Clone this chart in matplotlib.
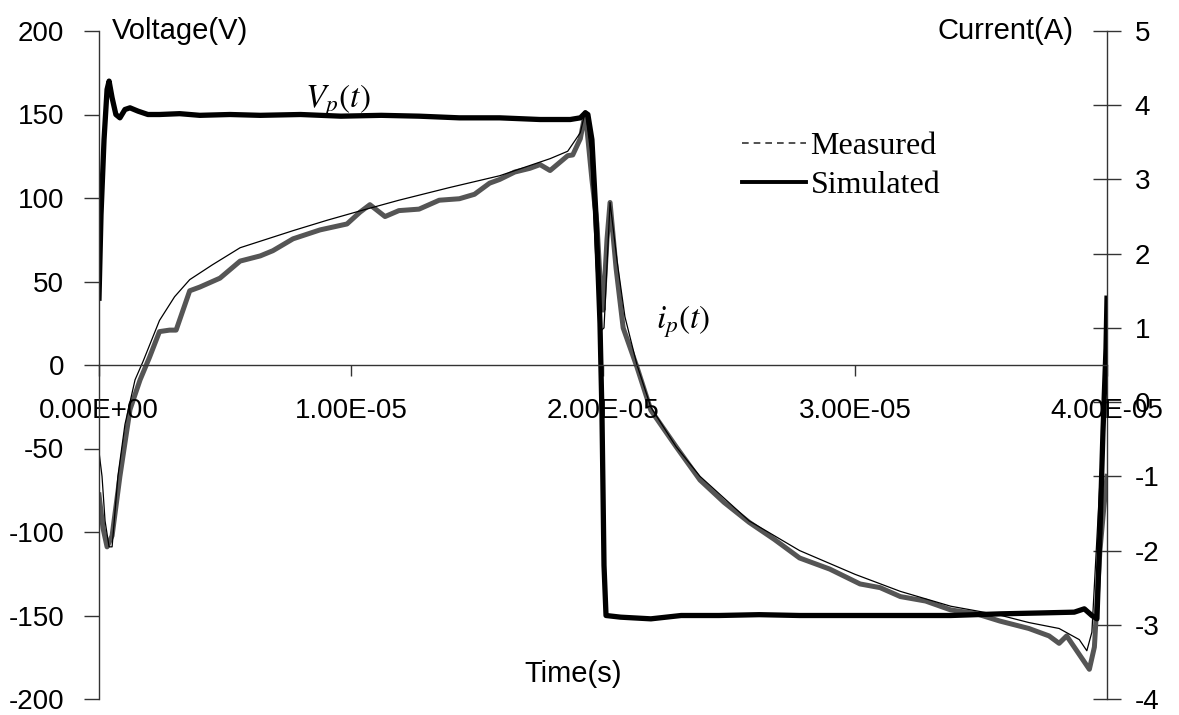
import numpy as np
import matplotlib
matplotlib.use('Agg')
import matplotlib.pyplot as plt
from matplotlib.lines import Line2D

plt.rcParams['font.family'] = ['Liberation Sans', 'DejaVu Sans']
plt.rcParams['mathtext.fontset'] = 'stix'
plt.rcParams['axes.unicode_minus'] = False

# voltage V_p(t), volts
tv_us = [0.0, 0.08, 0.2, 0.32, 0.4, 0.52, 0.67, 0.83, 1.03, 1.23, 1.55, 1.94, 2.4, 3.2,
         4.0, 5.2, 6.4, 8.0, 9.6, 11.2, 12.7, 14.3, 15.9, 17.5, 18.7, 19.1, 19.3, 19.4,
         19.56, 19.72, 19.88, 19.96, 20.04, 20.12, 20.7, 21.9, 23.1, 24.6, 26.2, 27.8,
         29.8, 31.8, 33.8, 35.8, 37.3, 38.7, 39.1, 39.4, 39.6, 39.72, 39.84, 39.96, 40.0]
volt = [40, 90, 135, 165, 170, 160, 150, 148, 153, 154, 152, 150, 150, 150.5,
        149.5, 150, 149.5, 150, 149, 149.5, 149, 148, 148, 147, 147, 148, 151, 150,
        135, 90, 25, -30, -120, -150, -151, -152, -150, -150, -149.5, -150,
        -150, -150, -150, -149, -148.5, -148, -146, -150, -152, -100, -40, 10, 40]

# simulated current i_p(t), amps
ts_us = [0.0, 0.12, 0.24, 0.4, 0.52, 0.75, 1.03, 1.43, 1.75, 2.4, 3.0, 3.6, 4.5, 5.6,
         7.7, 9.05, 10.4, 11.9, 13.9, 15.9, 17.9, 18.6, 19.1, 19.3, 19.5, 19.72, 19.88,
         20.04, 20.28, 20.56, 20.87, 21.35, 21.9, 22.9, 23.85, 25.8, 27.8, 30.0, 31.8,
         33.8, 35.75, 36.9, 38.1, 38.9, 39.2, 39.4, 39.7, 40.0]
cur_sim = [-0.67, -1.0, -1.6, -1.95, -1.95, -1.0, -0.3, 0.3, 0.55, 1.1, 1.42, 1.65, 1.85, 2.08,
           2.31, 2.45, 2.58, 2.72, 2.89, 3.05, 3.28, 3.38, 3.63, 3.92, 3.4, 1.9, 0.95,
           1.0, 2.69, 1.9, 1.15, 0.5, -0.07, -0.6, -1.0, -1.6, -2.0, -2.32, -2.55,
           -2.75, -2.87, -2.97, -3.05, -3.2, -3.35, -3.1, -1.2, 0.8]

# measured current, amps
tm_us = [0.0, 0.16, 0.32, 0.52, 0.83, 1.23, 1.63, 2.0, 2.4, 2.8, 3.06, 3.6, 4.0, 4.8,
         5.6, 6.4, 6.9, 7.7, 8.77, 9.84, 10.36, 10.75, 11.35, 11.9, 12.7, 13.5, 14.3,
         14.9, 15.5, 15.9, 16.5, 17.1, 17.5, 17.9, 18.6, 18.8, 19.1, 19.3, 19.56, 19.76,
         19.88, 20.0, 20.16, 20.28, 20.52, 20.8, 21.35, 21.9, 22.9, 23.85, 24.8, 25.8,
         26.8, 27.8, 29.0, 30.2, 31.0, 31.8, 32.8, 33.8, 34.8, 35.75, 36.9, 37.7, 38.1,
         38.4, 38.7, 39.0, 39.3, 39.5, 39.72, 39.88, 40.0]
cur_meas = [-1.25, -1.7, -1.95, -1.8, -1.0, -0.1, 0.3, 0.6, 0.95, 0.97, 0.97, 1.5, 1.55, 1.67,
            1.9, 1.97, 2.04, 2.2, 2.32, 2.4, 2.56, 2.66, 2.5, 2.58, 2.6, 2.72, 2.74,
            2.8, 2.95, 3.0, 3.1, 3.15, 3.2, 3.12, 3.32, 3.33, 3.55, 3.9, 3.0, 2.4,
            1.68, 1.24, 2.2, 2.69, 1.8, 1.0, 0.47, -0.11, -0.6, -1.05, -1.35, -1.62,
            -1.85, -2.1, -2.25, -2.45, -2.5, -2.62, -2.68, -2.8, -2.85, -2.95, -3.05, -3.15, -3.25,
            -3.15, -3.3, -3.45, -3.6, -3.3, -2.0, -1.4, -1.0]

xticks = [0, 1e-5, 2e-5, 3e-5, 4e-5]
xlabels = ['0.00E+00', '1.00E-05', '2.00E-05', '3.00E-05', '4.00E-05']

tv = np.array(tv_us) * 1e-6
ts = np.array(ts_us) * 1e-6
tm = np.array(tm_us) * 1e-6

fig = plt.figure(figsize=(11.79, 7.15), dpi=100)
ax = fig.add_axes([99/1179, 16/715, 1008/1179, 668/715])
ax2 = ax.twinx()

ax2.plot(tm, cur_meas, color='#555555', lw=3.6, solid_joinstyle='round')
ax2.plot(ts, cur_sim, color='black', lw=0.9)
ax.plot(tv, volt, color='black', lw=3.8, solid_joinstyle='round')
ax.set_zorder(ax2.get_zorder() + 1)
ax.patch.set_visible(False)

ax.set_xlim(0, 4e-5)
ax.set_ylim(-200, 200)
ax2.set_ylim(-4, 5)
ax.set_yticks(np.arange(-200, 201, 50))
ax2.set_yticks(np.arange(-4, 6, 1))
ax.set_xticks(xticks)
ax.set_xticklabels(xlabels)

for s in ['top', 'right']:
    ax.spines[s].set_visible(False)
for s in ['top', 'bottom', 'left']:
    ax2.spines[s].set_visible(False)
ax.spines['bottom'].set_position(('data', 0))
for sp in [ax.spines['left'], ax.spines['bottom'], ax2.spines['right']]:
    sp.set_color('#333333')
    sp.set_linewidth(1.0)

ax.tick_params(axis='y', direction='out', length=11, width=1, labelsize=20, pad=14, color='#333333')
ax.tick_params(axis='x', direction='out', length=8, width=1, labelsize=20, pad=16, color='#333333')
ax2.tick_params(axis='y', direction='inout', length=20, width=1, labelsize=20, pad=10, color='#333333')

ax.text(0.013, 1.0, 'Voltage(V)', transform=ax.transAxes, fontsize=21, ha='left', va='center')
ax.text(0.967, 1.0, 'Current(A)', transform=ax.transAxes, fontsize=21, ha='right', va='center')
ax.text(0.47, 0.037, 'Time(s)', transform=ax.transAxes, fontsize=21, ha='center', va='center')

ax.text(0.204, 0.896, r'$V_p(t)$', transform=ax.transAxes, fontsize=24, ha='left', va='center')
ax.text(0.553, 0.565, r'$i_p(t)$', transform=ax.transAxes, fontsize=24, ha='left', va='center')

handles = [Line2D([], [], color='#333333', lw=1.2, ls=(0, (4, 3))),
           Line2D([], [], color='black', lw=2.8)]
leg = ax.legend(handles, ['Measured', 'Simulated'], loc='upper left',
                bbox_to_anchor=(0.625, 0.868), frameon=False, handlelength=2.0,
                handletextpad=0.15, labelspacing=0.3, borderaxespad=0,
                prop={'family': 'Liberation Serif', 'size': 23})

fig.savefig('out.png', dpi=100)
